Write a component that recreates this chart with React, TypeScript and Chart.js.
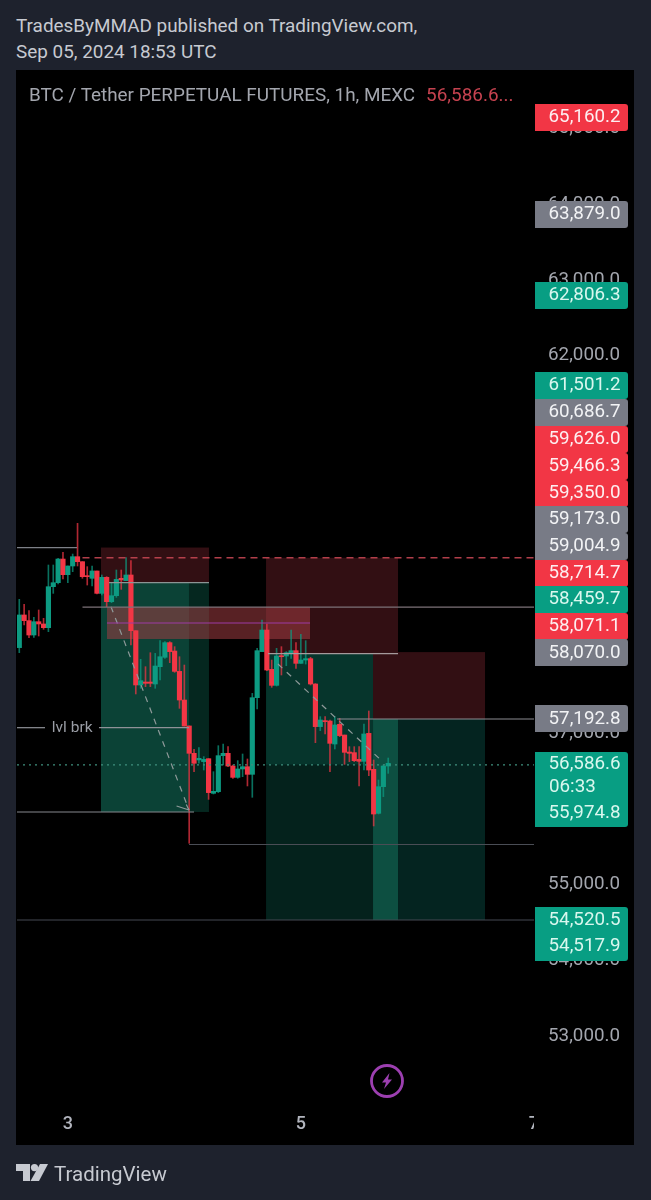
import React, { useEffect, useRef } from "react";
import { Chart, registerables } from "chart.js";

Chart.register(...registerables);

// Candle values, one entry per hour
const opens = [58116,58548,58473,58283,58459,58429,58380,58922,58975,59288,59081,59196,59319,59253,59063,59033,59130,58834,59046,58724,58803,59033,59002,59077,58340,57622,57661,57661,57635,57864,57988,58182,58071,57802,57423,57080,56718,56630,56608,56647,56189,56211,56687,56718,56550,56400,56511,56541,56440,57454,58063,58349,57829,57617,58005,58005,58049,58076,57908,57952,57970,57635,57071,57150,57145,56841,57101,56960,56735,56727,56638,56612,56982,56506,55924,56277,56550];
const highs = [58755,58689,58605,58517,58614,58504,59209,59209,59297,59377,59196,59354,59760,59253,59187,59196,59130,59077,59055,58967,59143,59143,59306,59266,58340,57961,57864,58049,58040,58208,58195,58195,58129,57996,57886,57080,56771,56793,56674,56647,56475,56819,56841,56806,56564,56621,56709,56643,57511,58107,58481,58429,57952,58107,58129,58063,58349,58182,58292,58208,57988,57640,57203,57203,57159,57203,57181,56960,56806,56806,56806,57106,57278,56630,56365,56564,56656];
const lows = [58049,58415,58248,58252,58270,58358,58327,58834,58958,59024,58975,59121,59196,59033,58944,58931,58825,58812,58658,58711,58781,58887,59002,58151,57503,57578,57600,57600,57578,57688,57974,57917,57789,57313,57079,55528,56475,56586,56497,56109,56180,56198,56564,56541,56387,56387,56409,56286,56136,57304,58063,57811,57591,57608,57754,57877,57974,57842,57908,57899,57622,56859,57018,56974,56475,56775,56938,56572,56608,56608,56286,56497,56422,55757,55915,56145,56453];
const closes = [58548,58473,58283,58459,58429,58380,58922,58975,59288,59081,59196,59319,59253,59055,59055,59130,58834,59046,58724,58803,59019,59011,59077,58340,57622,57679,57644,57644,57873,57996,58182,58063,57802,57423,57079,56718,56586,56652,56638,56198,56215,56687,56718,56550,56400,56511,56541,56440,57454,58076,58349,57820,57617,58005,57996,58049,58076,57908,57952,57970,57635,57071,57159,57137,56850,57093,56952,56731,56718,56621,56612,56974,56497,55915,56277,56550,56586];

// Price axis
const yTickValues = [53000,54000,55000,56000,57000,58000,59000,60000,61000,62000,63000,64000,65000];
// Time axis: hour index -> day of month
const dayTickIndex = [10,58,106];
const dayTickLabels = ["3","5","7"];

// Horizontal drawings
const levelPrice = [59440,59305,58977,58653,58442,58038,57172,57057,57057,55942,55512,54513,56566];
const levelFrom = [-0.47,13.02,18.48,13.02,18.07,51.24,65.45,-0.47,16.42,-0.47,34.96,-0.47,-0.47];
const levelTo = [11.89,106.03,39.08,106.03,59.89,78.02,106.03,5.3,34.96,35.99,106.03,106.03,106.03];

// Diagonal dashed drawings and the first one's arrow head
const diagFromIndex = [18.89,53.29,32.4,34.4];
const diagToIndex = [34.96,74.93,34.96,34.96];
const diagFromPrice = [58657,57899,56021,56041];
const diagToPrice = [55968,56603,55968,55968];

// Position-tool boxes
const boxFromIndex = [16.83,16.83,16.83,50.83,50.83,50.83,50.83,72.87,72.87,72.87,78.02,18.07];
const boxToIndex = [39.08,39.08,34.96,78.02,78.02,72.87,72.87,78.02,78.02,95.94,95.94,59.89];
const boxTopPrice = [59440,58977,58977,59305,58038,58038,56566,58057,57172,58057,57172,58653];
const boxBottomPrice = [58977,55942,55942,58038,54513,56566,54513,57172,54513,57172,54513,58230];

// Price tags on the axis
const tagTexts = [["65,160.2"],["63,879.0"],["62,806.3"],["61,501.2"],["60,686.7"],["59,626.0"],["59,466.3"],["59,350.0"],["59,173.0"],["59,004.9"],["58,714.7"],["58,459.7"],["58,071.1"],["58,070.0"],["57,192.8"],["56,586.6","06:33","55,974.8"],["54,520.5","54,517.9"]];
const tagLevels = [65135,63845,62774,61583,61226,60869,60518,60161,59811,59460,59103,58752,58402,58045,57172,56239,54328];
const tagKinds = ["red","gray","green","green","gray","red","red","red","gray","gray","red","green","red","gray","gray","green","green"];

const labelText = "lvl brk";
const labelIndex = 10.9;
const labelPrice = 57057;

// Styles
const UP = "#0d9b82";
const DOWN = "#f23645";
const UP_WICK = "rgba(13,155,130,0.72)";
const DOWN_WICK = "rgba(242,54,69,0.72)";
const levelColors = ["#7d8087","rgba(196,70,82,0.9)","#8b9595","#7d7278","#9c3aa4","#a59a9c","#8b8b91","#8f9298","#8f9298","#85888d","#4a4d55","#444852","#3f8f7d"];
const levelWidths = [1.2,1.7,1.2,1.2,1.2,1.2,1.2,1.2,1.2,1.2,1.2,1.2,1.2];
const levelDash = [[],[7,5],[],[],[],[],[],[],[],[],[],[],[2,4]];
const boxFills = ["#320f13","#05271f","#0b4236","#320f13","#031c18","#06352c","#04221c","#47423e","#0d4f41","#320f13","#042420","rgba(160,60,65,0.55)"];
const tagColors: Record<string,string> = { red: "#f23645", gray: "#787b86", green: "#089e83" };
const tagInk: Record<string,string> = { red: "#fdeef0", gray: "#f2f3f5", green: "#d9f7ee" };
const tagLineOffsets: Record<number, number[]> = { 1: [0], 2: [-14, 12], 3: [-25.5, -2.5, 23.5] };
const tagHeights: Record<number, number> = { 1: 27, 2: 54, 3: 75 };
const FONT = "Roboto, sans-serif";

const drawingsPlugin = {
  id: "drawings",
  beforeDatasetsDraw(chart: any) {
    const { ctx, chartArea, scales } = chart;
    const x = scales.x, y = scales.y;
    ctx.save();
    // the time axis row ends where the price axis begins
    ctx.fillStyle = "#000";
    ctx.fillRect(chartArea.right, chartArea.bottom, 100, 45);
    ctx.beginPath();
    ctx.rect(chartArea.left, chartArea.top, chartArea.right - chartArea.left, chartArea.bottom - chartArea.top);
    ctx.clip();
    boxFills.forEach((fill, i) => {
      const l = x.getPixelForValue(boxFromIndex[i]);
      const r = x.getPixelForValue(boxToIndex[i]);
      const t = y.getPixelForValue(boxTopPrice[i]);
      const b = y.getPixelForValue(boxBottomPrice[i]);
      ctx.fillStyle = fill;
      ctx.fillRect(l, t, r - l, b - t);
    });
    ctx.restore();
  },
  afterDatasetsDraw(chart: any) {
    // the price labels sit a little below their levels
    chart.ctx.save();
    chart.ctx.translate(0, 1.5);
  },
  afterDraw(chart: any) {
    const { ctx, scales } = chart;
    ctx.restore();
    const x = scales.x, y = scales.y;
    ctx.save();
    ctx.font = `15.5px ${FONT}`;
    ctx.fillStyle = "#9a9da5";
    ctx.textAlign = "center";
    ctx.textBaseline = "middle";
    ctx.fillText(labelText, x.getPixelForValue(labelIndex), y.getPixelForValue(labelPrice));
    tagTexts.forEach((lines, i) => {
      const cy = y.getPixelForValue(tagLevels[i]);
      const h = tagHeights[lines.length];
      const top = Math.round(cy - h / 2);
      const bottom = Math.round(cy + h / 2);
      ctx.fillStyle = tagColors[tagKinds[i]];
      ctx.beginPath();
      ctx.roundRect(535, top, 93, bottom - top, [0, 3, 3, 0]);
      ctx.fill();
      ctx.font = `18.8px ${FONT}`;
      ctx.fillStyle = tagInk[tagKinds[i]];
      ctx.textBaseline = "middle";
      lines.forEach((t, j) => {
        const isTime = t.includes(":");
        ctx.textAlign = isTime ? "left" : "right";
        ctx.fillText(t, isTime ? 549 : 620.5, cy + tagLineOffsets[lines.length][j]);
      });
    });
    ctx.restore();
  },
};

export default function App() {
  const ref = useRef<HTMLCanvasElement>(null);
  useEffect(() => {
    document.body.style.margin = "0";
    document.body.style.background = "#1e222d";
    const wickData = highs.map((h, i) => ({ x: i, y: [lows[i], h] }));
    const bodyData = opens.map((o, i) => ({ x: i, y: [o, closes[i]] }));
    const isUp = opens.map((o, i) => closes[i] >= o);
    const levelSets = levelPrice.map((p, i) => ({
      type: "line" as const,
      data: [{ x: levelFrom[i], y: p }, { x: levelTo[i], y: p }],
      borderColor: levelColors[i],
      borderWidth: levelWidths[i],
      borderDash: levelDash[i],
      pointRadius: 0,
      order: 1,
    }));
    const diagSets = diagFromIndex.map((fx, i) => ({
      type: "line" as const,
      data: [{ x: fx, y: diagFromPrice[i] }, { x: diagToIndex[i], y: diagToPrice[i] }],
      borderColor: "#8f9a9a",
      borderWidth: 1.2,
      borderDash: i < 2 ? [6, 6] : [],
      pointRadius: 0,
      order: 1,
    }));
    const chart = new Chart(ref.current as HTMLCanvasElement, {
      type: "bar",
      data: {
        datasets: [
          {
            label: "wick",
            data: wickData as any,
            backgroundColor: isUp.map((u) => (u ? UP_WICK : DOWN_WICK)),
            barThickness: 1,
            grouped: false,
            order: 3,
          },
          {
            label: "body",
            data: bodyData as any,
            backgroundColor: isUp.map((u) => (u ? UP : DOWN)),
            barThickness: 4.5,
            minBarLength: 1,
            grouped: false,
            order: 2,
          },
          ...levelSets,
          ...diagSets,
        ] as any,
      },
      options: {
        responsive: false,
        animation: false,
        devicePixelRatio: 1,
        layout: { autoPadding: false, padding: { left: 17, right: 31, top: 70, bottom: 55 } },
        plugins: { legend: { display: false }, tooltip: { enabled: false }, title: { display: false } },
        scales: {
          x: {
            type: "linear",
            offset: false,
            min: -0.47,
            max: 106.03,
            grid: { display: false, offset: false, drawTicks: false },
            border: { display: false },
            afterFit: (s: any) => { s.height = 45; },
            afterBuildTicks: (s: any) => { s.ticks = dayTickIndex.map((v) => ({ value: v })); },
            ticks: {
              z: 0,
              autoSkip: false,
              maxRotation: 0,
              padding: 14,
              color: "#b2b5be",
              font: { family: FONT, size: 18, weight: "500" },
              callback: (v: any) => dayTickLabels[dayTickIndex.indexOf(Number(v))] ?? "",
            },
          },
          y: {
            type: "linear",
            position: "right",
            min: 52132,
            max: 65757,
            grid: { display: false, drawTicks: false },
            border: { display: false },
            afterFit: (s: any) => { s.width = 86; },
            afterBuildTicks: (s: any) => { s.ticks = yTickValues.map((v) => ({ value: v })); },
            ticks: {
              z: 1,
              autoSkip: false,
              padding: 15,
              crossAlign: "far",
              color: "#a3a6ae",
              font: { family: FONT, size: 18.8 },
              callback: (v: any) => Number(v).toLocaleString("en-US", { minimumFractionDigits: 1 }),
            },
          },
        },
      } as any,
      plugins: [drawingsPlugin],
    });
    return () => chart.destroy();
  }, []);

  const headerStyle: React.CSSProperties = {
    position: "absolute", left: 16, color: "#c7cad1", font: `18.9px ${FONT}`, lineHeight: "26px", whiteSpace: "nowrap",
  };
  return (
    <div style={{ position: "absolute", left: 0, top: 0, width: 651, height: 1200, background: "#1e222d", overflow: "hidden" }}>
      <div style={{ ...headerStyle, top: 13 }}>TradesByMMAD published on TradingView.com,</div>
      <div style={{ ...headerStyle, top: 39 }}>Sep 05, 2024 18:53 UTC</div>
      <div style={{ position: "absolute", left: 16, top: 70, width: 618, height: 1075, background: "#000" }} />
      <canvas ref={ref} width={651} height={1200} style={{ position: "absolute", left: 0, top: 0, display: "block" }} />
      <div style={{ ...headerStyle, left: 29, top: 82, color: "#a3a6ae" }}>
        BTC / Tether PERPETUAL FUTURES, 1h, MEXC
        <span style={{ color: "#c5424f", marginLeft: 11 }}>56,586.6...</span>
      </div>
      <svg style={{ position: "absolute", left: 369, top: 1063 }} width={36} height={36} viewBox="0 0 36 36">
        <circle cx="18" cy="18" r="15.5" fill="none" stroke="#9c3fb0" strokeWidth="2.8" />
        <path d="M20.5 10 L13 19.5 H17 L15 26 L23 16.5 H19 Z" fill="#9c3fb0" />
      </svg>
      <svg style={{ position: "absolute", left: 16, top: 1164 }} width={32} height={17} viewBox="0 0 32 17">
        <path d="M0 0 H14 V17 H7 V7 H0 Z" fill="#c7cad1" />
        <circle cx="18.5" cy="3.6" r="3.6" fill="#c7cad1" />
        <path d="M24 0 H32 L23 17 H14.5 Z" fill="#c7cad1" />
      </svg>
      <div style={{ ...headerStyle, left: 54, top: 1161, fontSize: 20.5 }}>TradingView</div>
    </div>
  );
}
